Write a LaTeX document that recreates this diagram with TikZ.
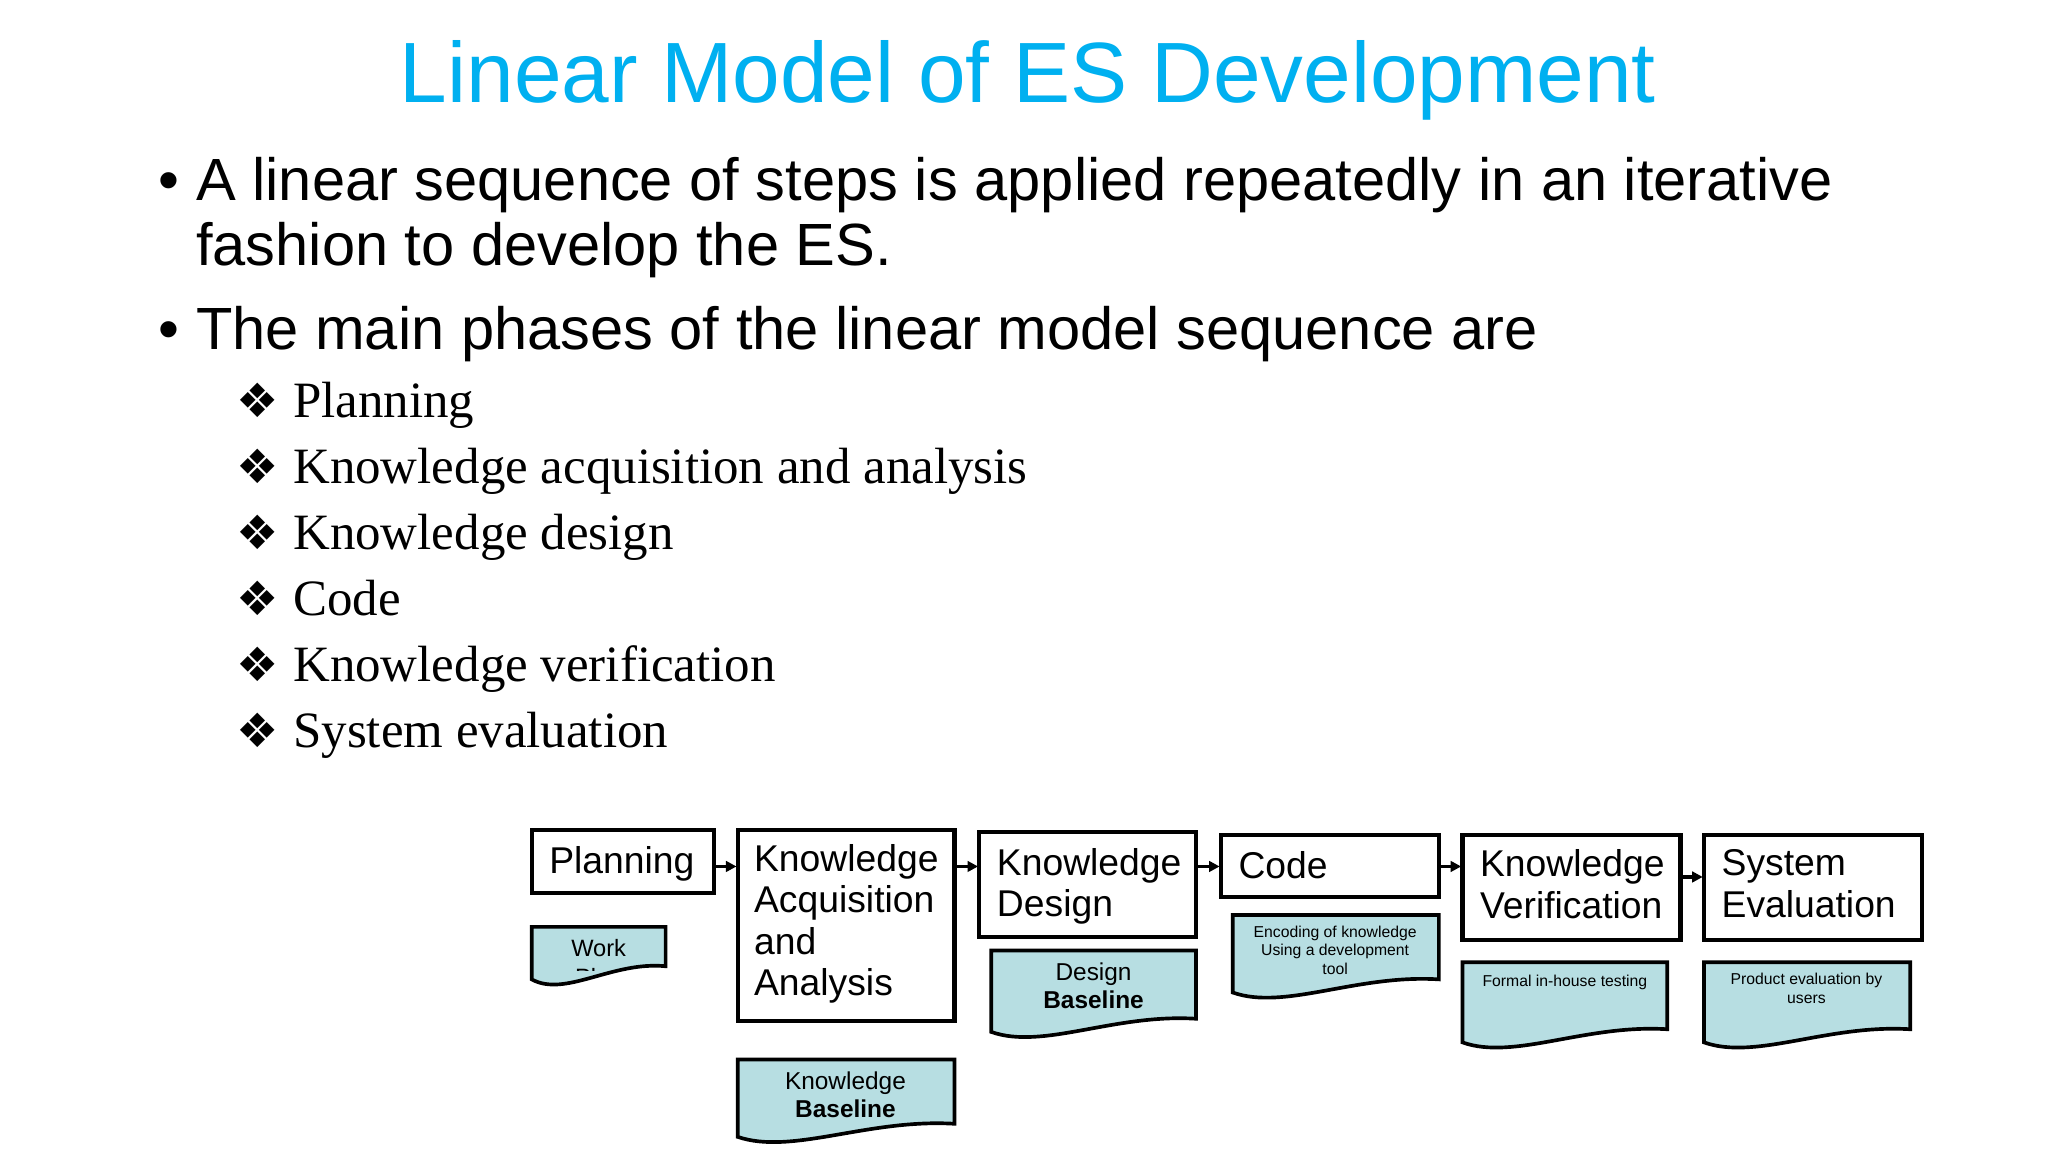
\documentclass[tikz,border=0pt]{standalone}
\usepackage{fontspec}
\setmainfont{Liberation Sans}
\newfontfamily\serif{Liberation Serif}
\newfontfamily\dejavu{DejaVu Sans}
\usetikzlibrary{arrows.meta}
\definecolor{titlecol}{RGB}{0,176,240}
\definecolor{doccol}{RGB}{183,222,226}
\begin{document}
\begin{tikzpicture}[x=0.5pt,y=-0.5pt,
  phase/.style={draw=black,line width=1.6pt,fill=white},
  doc/.style={draw=black,line width=1.4pt,fill=doccol},
  lab/.style={font=\fontsize{14.2}{16.2}\selectfont,align=left,anchor=north west,inner sep=0pt},
  conn/.style={line width=1.2pt,-{Triangle[length=4pt,width=4pt]}},
  sub/.style={anchor=base west,inner sep=0pt,font=\serif\fontsize{19.4}{22}\selectfont},
  dia/.style={anchor=base west,inner sep=0pt,font=\dejavu\fontsize{18}{20}\selectfont}]
\useasboundingbox (0,0) rectangle (1560,877.5);
\fill[white] (0,0) rectangle (1560,877.5);
\node[anchor=base,inner sep=0pt,text=titlecol,font=\fontsize{32.6}{38}\selectfont] (title) at (783,78) {Linear Model of ES Development};
\node[anchor=base west,inner sep=0pt,font=\fontsize{22.7}{27}\selectfont] (b1) at (120,153) {•};
\node[anchor=base west,inner sep=0pt,font=\fontsize{22.7}{27}\selectfont] (t1) at (149,153) {A linear sequence of steps is applied repeatedly in an iterative};
\node[anchor=base west,inner sep=0pt,font=\fontsize{22.7}{27}\selectfont] (t1b) at (149,202) {fashion to develop the ES.};
\node[anchor=base west,inner sep=0pt,font=\fontsize{22.7}{27}\selectfont] (b2) at (120,266) {•};
\node[anchor=base west,inner sep=0pt,font=\fontsize{22.7}{27}\selectfont] (t2) at (149,266) {The main phases of the linear model sequence are};
\foreach \t [count=\i] in {Planning,Knowledge acquisition and analysis,Knowledge design,Code,Knowledge verification,System evaluation}{
  \node[dia] (d\i) at (180,{318+50.3*(\i-1)}) {❖};
  \node[sub] (s\i) at (223,{318+50.3*(\i-1)}) {\t};
}
% phase boxes
\draw[phase] (405,632) rectangle (544,680); \node[lab] (pl) at (418,644) {Planning};
\draw[phase] (562,632) rectangle (727,778); \node[lab,text width=150] (ka) at (574,643) {Knowledge\\[-0.5pt]Acquisition\\[-0.5pt]and\\[-0.5pt]Analysis};
\draw[phase] (746,634) rectangle (911,714); \node[lab] (kd) at (759,646) {Knowledge\\[-0.5pt]Design};
\draw[phase] (930,636) rectangle (1096,683); \node[lab] (co) at (943,648) {Code};
\draw[phase] (1114,636) rectangle (1280,716); \node[lab] (kv) at (1127,647) {Knowledge\\[-0.5pt]Verification};
\draw[phase] (1298,636) rectangle (1464,716); \node[lab] (se) at (1311,647) {System\\[-0.5pt]Evaluation};
\coordinate (a1s) at (545,660); \coordinate (a1e) at (561,660);
\coordinate (a2s) at (728,660); \coordinate (a2e) at (745,660);
\coordinate (a3s) at (912,660); \coordinate (a3e) at (929,660);
\coordinate (a4s) at (1097,660); \coordinate (a4e) at (1113,660);
\coordinate (a5s) at (1281,668); \coordinate (a5e) at (1297,668);
\foreach \s/\e in {a1s/a1e,a2s/a2e,a3s/a3e,a4s/a4e,a5s/a5e} \draw[conn] (\s) -- (\e);
% documents
\newcommand\docshape[4]{% x1 y1 x2 yb
  \draw[doc] (#1,#4) -- (#1,#2) -- (#3,#2) -- (#3,{#4-10}) .. controls ({#1+0.6*(#3-#1)},{#4-14}) and ({#1+0.25*(#3-#1)},{#4+14}) .. (#1,#4) -- cycle;}
\docshape{405}{706}{507}{746}
\begin{scope}
\clip (405,706) rectangle (507,739);
\node[anchor=north,inner sep=0pt,align=center,font=\fontsize{9}{11}\selectfont] (wp) at (456,715) {Work\\Plan};
\end{scope}
\docshape{562}{807}{727}{866}
\node[anchor=north,inner sep=0pt,align=center,font=\fontsize{9.3}{10.8}\selectfont] (kb) at (644,816) {Knowledge\\\textbf{Baseline}};
\docshape{755}{724}{911}{786}
\node[anchor=north,inner sep=0pt,align=center,font=\fontsize{9.3}{10.8}\selectfont] (db) at (833,733) {Design\\\textbf{Baseline}};
\docshape{939}{697}{1096}{756}
\node[anchor=north,inner sep=0pt,align=center,font=\fontsize{6}{7}\selectfont] (en) at (1017,705) {Encoding of knowledge\\Using a development\\tool};
\docshape{1114}{733}{1270}{794}
\node[anchor=north,inner sep=0pt,align=center,font=\fontsize{6}{7}\selectfont] (ft) at (1192,742) {Formal in-house testing};
\docshape{1298}{733}{1455}{794}
\node[anchor=north,inner sep=0pt,align=center,font=\fontsize{6}{7}\selectfont] (pe) at (1376,741) {Product evaluation by\\users};
\end{tikzpicture}
\end{document}
